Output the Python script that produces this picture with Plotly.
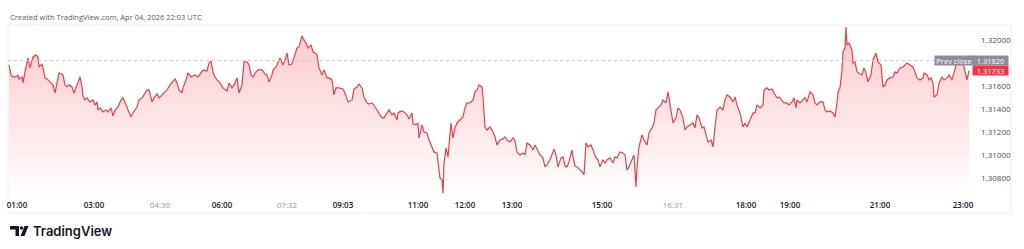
import plotly.graph_objects as go

# ---- data ----
bar = [9, 11, 13, 16, 18, 19, 22, 23, 25, 27, 28, 30, 32, 33, 36, 38, 39, 42, 43, 45, 47, 50, 53, 55, 57, 59,
       63, 65, 67, 69, 72, 74, 77, 80, 82, 83, 85, 87, 90, 93, 95, 97, 98, 100, 103, 106, 108, 111, 113, 115,
       118, 121, 123, 125, 127, 128, 131, 133, 137, 139, 142, 144, 147, 149, 152, 154, 157, 159, 162, 164,
       167, 170, 173, 175, 177, 179, 182, 183, 186, 188, 191, 193, 195, 198, 201, 203, 207, 209, 211, 213,
       215, 217, 220, 223, 227, 229, 232, 234, 237, 239, 242, 244, 247, 249, 251, 253, 256, 258, 262, 265,
       267, 269, 272, 273, 276, 278, 280, 283, 285, 287, 289, 292, 294, 297, 299, 302, 304, 306, 308, 311,
       313, 315, 317, 319, 322, 324, 327, 329, 332, 334, 336, 339, 343, 345, 348, 352, 354, 357, 359, 362,
       364, 367, 369, 372, 375, 378, 382, 384, 387, 389, 392, 394, 397, 398, 401, 404, 407, 409, 412, 413,
       416, 418, 419, 422, 424, 427, 429, 432, 434, 437, 438, 440, 442, 443, 444, 446, 448, 451, 453, 455,
       457, 460, 463, 465, 467, 470, 473, 475, 477, 479, 482, 483, 485, 487, 490, 493, 495, 497, 500, 503,
       505, 507, 510, 513, 515, 517, 520, 523, 525, 527, 530, 533, 535, 537, 540, 543, 545, 547, 550, 553,
       554, 556, 558, 561, 563, 565, 567, 569, 572, 573, 575, 577, 580, 583, 584, 586, 588, 591, 593, 596,
       598, 600, 603, 605, 607, 610, 613, 615, 617, 620, 623, 625, 627, 629, 632, 634, 636, 637, 639, 642,
       644, 647, 649, 652, 654, 656, 658, 661, 663, 666, 668, 671, 673, 676, 678, 680, 683, 685, 687, 690,
       693, 695, 697, 699, 702, 704, 706, 708, 711, 713, 715, 717, 720, 723, 725, 727, 730, 733, 735, 737,
       740, 743, 745, 747, 750, 753, 755, 757, 760, 763, 764, 767, 769, 772, 774, 777, 779, 782, 784, 787,
       789, 792, 794, 796, 797, 800, 803, 805, 807, 810, 813, 815, 817, 820, 823, 825, 827, 830, 833, 835,
       837, 838, 840, 842, 843, 845, 846, 847, 849, 852, 853, 855, 857, 859, 862, 864, 866, 868, 871, 873,
       876, 878, 881, 883, 885, 887, 890, 893, 895, 897, 900, 903, 905, 907, 910, 913, 915, 917, 920, 923,
       924, 927, 929, 931, 933, 934, 937, 939, 942, 944, 947, 949, 952, 954, 957, 959, 962, 964, 966, 967,
       969]

price = [1.31783, 1.31696, 1.31678, 1.31678, 1.31696, 1.31661, 1.31678, 1.31626, 1.31722, 1.31800,
         1.31843, 1.31757, 1.31835, 1.31852, 1.31870, 1.31852, 1.31765, 1.31791, 1.31757, 1.31670,
         1.31661, 1.31635, 1.31609, 1.31539, 1.31626, 1.31713, 1.31696, 1.31609, 1.31591, 1.31609,
         1.31591, 1.31539, 1.31609, 1.31678, 1.31591, 1.31513, 1.31478, 1.31496, 1.31461, 1.31478,
         1.31435, 1.31461, 1.31391, 1.31409, 1.31374, 1.31391, 1.31374, 1.31409, 1.31339, 1.31391,
         1.31417, 1.31478, 1.31496, 1.31461, 1.31417, 1.31391, 1.31330, 1.31365, 1.31417, 1.31478,
         1.31496, 1.31522, 1.31565, 1.31565, 1.31461, 1.31496, 1.31530, 1.31496, 1.31522, 1.31548,
         1.31565, 1.31609, 1.31635, 1.31661, 1.31626, 1.31565, 1.31539, 1.31583, 1.31652, 1.31713,
         1.31678, 1.31687, 1.31696, 1.31678, 1.31722, 1.31739, 1.31730, 1.31800, 1.31817, 1.31722,
         1.31678, 1.31652, 1.31626, 1.31583, 1.31557, 1.31626, 1.31583, 1.31609, 1.31670, 1.31539,
         1.31609, 1.31809, 1.31809, 1.31783, 1.31696, 1.31678, 1.31722, 1.31739, 1.31739, 1.31704,
         1.31696, 1.31635, 1.31696, 1.31739, 1.31765, 1.31800, 1.31843, 1.31783, 1.31826, 1.31887,
         1.31783, 1.31791, 1.31852, 1.31930, 1.31939, 1.32035, 1.32000, 1.31974, 1.31930, 1.31957,
         1.31896, 1.31887, 1.31870, 1.31757, 1.31696, 1.31739, 1.31670, 1.31670, 1.31652, 1.31522,
         1.31583, 1.31583, 1.31574, 1.31539, 1.31461, 1.31478, 1.31574, 1.31591, 1.31617, 1.31583,
         1.31504, 1.31452, 1.31443, 1.31452, 1.31417, 1.31374, 1.31322, 1.31322, 1.31365, 1.31391,
         1.31348, 1.31365, 1.31304, 1.31365, 1.31383, 1.31374, 1.31348, 1.31313, 1.31365, 1.31270,
         1.31261, 1.31278, 1.31148, 1.31261, 1.31200, 1.31191, 1.31130, 1.31070, 1.31026, 1.31017,
         1.30930, 1.30800, 1.30783, 1.30669, 1.30930, 1.31061, 1.30983, 1.31278, 1.31148, 1.31235,
         1.31278, 1.31304, 1.31330, 1.31409, 1.31452, 1.31452, 1.31478, 1.31548, 1.31565, 1.31609,
         1.31591, 1.31504, 1.31243, 1.31217, 1.31243, 1.31200, 1.31156, 1.31087, 1.31130, 1.31139,
         1.31156, 1.31130, 1.31113, 1.31148, 1.31122, 1.31026, 1.31000, 1.31017, 1.31000, 1.31104,
         1.31087, 1.31043, 1.31087, 1.31052, 1.31000, 1.30974, 1.30896, 1.30913, 1.30957, 1.31026,
         1.31052, 1.31000, 1.30896, 1.30974, 1.30983, 1.30904, 1.30896, 1.30939, 1.31043, 1.30983,
         1.30904, 1.30896, 1.30870, 1.30843, 1.30826, 1.31104, 1.31070, 1.31087, 1.31043, 1.30974,
         1.30957, 1.30896, 1.30957, 1.30930, 1.30957, 1.30974, 1.30930, 1.30983, 1.30974, 1.31026,
         1.31017, 1.31000, 1.30870, 1.30896, 1.30957, 1.31000, 1.30722, 1.30896, 1.31070, 1.31174,
         1.31130, 1.31087, 1.31191, 1.31235, 1.31278, 1.31391, 1.31409, 1.31435, 1.31478, 1.31452,
         1.31548, 1.31391, 1.31278, 1.31322, 1.31409, 1.31391, 1.31322, 1.31217, 1.31243, 1.31261,
         1.31278, 1.31235, 1.31348, 1.31322, 1.31235, 1.31243, 1.31174, 1.31113, 1.31130, 1.31070,
         1.31243, 1.31391, 1.31417, 1.31391, 1.31478, 1.31522, 1.31504, 1.31461, 1.31504, 1.31435,
         1.31365, 1.31243, 1.31278, 1.31243, 1.31304, 1.31365, 1.31365, 1.31435, 1.31409, 1.31435,
         1.31565, 1.31583, 1.31565, 1.31574, 1.31539, 1.31496, 1.31504, 1.31470, 1.31452, 1.31452,
         1.31435, 1.31461, 1.31496, 1.31409, 1.31478, 1.31452, 1.31478, 1.31496, 1.31461, 1.31548,
         1.31522, 1.31452, 1.31435, 1.31461, 1.31461, 1.31391, 1.31374, 1.31383, 1.31365, 1.31330,
         1.31452, 1.31548, 1.31583, 1.31739, 1.31896, 1.31930, 1.32113, 1.31957, 1.31974, 1.31913,
         1.31800, 1.31809, 1.31722, 1.31713, 1.31696, 1.31757, 1.31713, 1.31635, 1.31696, 1.31826,
         1.31887, 1.31809, 1.31783, 1.31591, 1.31609, 1.31652, 1.31670, 1.31678, 1.31722, 1.31713,
         1.31757, 1.31765, 1.31783, 1.31800, 1.31783, 1.31765, 1.31722, 1.31670, 1.31652, 1.31670,
         1.31713, 1.31696, 1.31652, 1.31670, 1.31626, 1.31504, 1.31522, 1.31626, 1.31678, 1.31652,
         1.31670, 1.31696, 1.31652, 1.31713, 1.31809, 1.31783, 1.31809, 1.31765, 1.31670, 1.31652,
         1.31733]

time_tick_bar = [17, 94, 160, 222, 287, 343, 418, 465, 512, 602, 673, 746, 790, 880, 963]
time_tick_label = ["01:00", "03:00", "04:30", "06:00", "07:32", "09:03", "11:00", "12:00", "13:00",
                   "15:00", "16:31", "18:00", "19:00", "21:00", "23:00"]
time_tick_major = [True, True, False, True, False, True, True, True, True,
                   True, False, True, True, True, True]
price_ticks = [1.32000, 1.31600, 1.31400, 1.31200, 1.31000, 1.30800]
prev_close = 1.31820
last_price = 1.31733

# ---- layout geometry ----
W, H = 1024, 249
L, R, T, B = 8, 54, 25, 52
PW, PH = W - L - R, H - T - B


def px(x):
    return (x - L) / PW


def py(y):
    return (H - B - y) / PH


RED = "#f23645"
FONT = "Open Sans, Roboto, sans-serif"

fig = go.Figure()
fig.add_trace(go.Scatter(
    x=bar, y=price, mode="lines",
    line=dict(color="#e8404c", width=1.2),
    fill="tozeroy",
    fillgradient=dict(type="vertical", start=1.3063, stop=1.3211,
                      colorscale=[[0, "rgba(242,54,69,0.0)"], [1, "rgba(242,54,69,0.28)"]]),
    hoverinfo="skip", showlegend=False,
))

ticktext = []
for lab, major in zip(time_tick_label, time_tick_major):
    if major:
        ticktext.append(f"<span style='color:#131722;font-weight:600'>{lab}</span>")
    else:
        ticktext.append(f"<span style='color:#9598a1'>{lab}</span>")

fig.update_layout(
    width=W, height=H,
    margin=dict(l=L, r=R, t=T, b=B, pad=0),
    paper_bgcolor="white", plot_bgcolor="white",
    font=dict(family=FONT, size=8, color="#131722"),
    xaxis=dict(range=[8, 970], tickvals=time_tick_bar, ticktext=ticktext,
               showgrid=False, zeroline=False, showline=False, ticks="",
               tickfont=dict(size=8), ticklabelstandoff=2, fixedrange=True, automargin=False),
    yaxis=dict(range=[1.30634, 1.32130], side="right", tickvals=price_ticks,
               tickformat=".5f", showgrid=False, zeroline=False, showline=False,
               ticks="", tickfont=dict(size=8, color="#4a4d57"), ticklabelstandoff=10,
               fixedrange=True, automargin=False),
)

# outer frame
fig.add_shape(type="rect", xref="paper", yref="paper",
              x0=px(8), x1=px(1011), y0=py(213), y1=py(25),
              line=dict(color="#eceef2", width=1), layer="below")
# prev close dotted line
fig.add_shape(type="line", xref="paper", yref="y", x0=px(8), x1=px(934),
              y0=prev_close, y1=prev_close, line=dict(color="#c8cad2", width=1, dash="dot"))

# price labels
fig.add_annotation(xref="paper", yref="y", x=px(953.5), y=prev_close, text="Prev close",
                   xanchor="center", yanchor="middle",
                   showarrow=False, bgcolor="#8c8f99", font=dict(color="white", size=7.5),
                   width=38, height=9, borderpad=0)
fig.add_annotation(xref="paper", yref="y", x=px(990.5), y=prev_close, text=f"{prev_close:.5f}",
                   xanchor="center", yanchor="middle",
                   showarrow=False, bgcolor="#8c8f99", font=dict(color="white", size=7.5),
                   width=35, height=9, borderpad=0)
fig.add_annotation(xref="paper", yref="y", x=px(990.5), y=last_price, text=f"{last_price:.5f}",
                   xanchor="center", yanchor="middle",
                   showarrow=False, bgcolor=RED, font=dict(color="white", size=7.5),
                   width=35, height=9, borderpad=0)

# header watermark
fig.add_annotation(xref="paper", yref="paper", x=px(8), y=py(17), xanchor="left", yanchor="middle",
                   text="Created with TradingView.com, Apr 04, 2026 22:03 UTC", showarrow=False,
                   font=dict(size=7.5, color="#5d606b"))

# bottom logo
fig.add_shape(type="rect", xref="paper", yref="paper", x0=px(10), x1=px(19), y0=py(229.5), y1=py(226),
              fillcolor="#131722", line=dict(width=0))
fig.add_shape(type="rect", xref="paper", yref="paper", x0=px(15.5), x1=px(19), y0=py(236), y1=py(226),
              fillcolor="#131722", line=dict(width=0))
fig.add_shape(type="circle", xref="paper", yref="paper", x0=px(19.8), x1=px(23.2), y0=py(229.7), y1=py(226.3),
              fillcolor="#131722", line=dict(width=0))
fig.add_shape(type="path", xref="paper", yref="paper",
              path=f"M {px(24.5)} {py(226)} L {px(28.5)} {py(226)} L {px(24.5)} {py(236)} L {px(20.5)} {py(236)} Z",
              fillcolor="#131722", line=dict(width=0))
fig.add_annotation(xref="paper", yref="paper", x=px(31), y=py(231), xanchor="left", yanchor="middle",
                   text="TradingView", showarrow=False,
                   font=dict(size=13, color="#131722", family="Inter, Open Sans, sans-serif", weight=600))

fig.write_html("out.html")
